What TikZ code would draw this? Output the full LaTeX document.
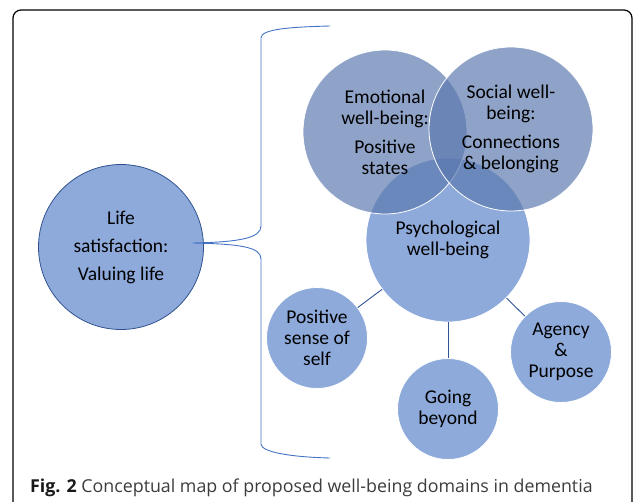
\documentclass[tikz,border=0pt]{standalone}
\usepackage{fontspec}
\setmainfont{Carlito}
\newfontfamily\capfont{Open Sans}
\usepackage{xcolor}
\usepackage{tikz}

\definecolor{lifefill}{HTML}{8EAADB}
\definecolor{lifeedge}{HTML}{2F528F}
\definecolor{domfill}{HTML}{5A78AE}
\definecolor{bracecol}{HTML}{4472C4}
\definecolor{linkcol}{HTML}{2F5597}
\definecolor{captext}{HTML}{3C3C3C}

\begin{document}
\begin{tikzpicture}[x=1pt, y=-1pt,
  bubble/.style={circle, draw=white, line width=0.8pt, fill=lifefill, inner sep=0pt,
    align=center, font=\fontsize{19.5}{21}\selectfont},
  big/.style={bubble, minimum size=164pt},
  small/.style={bubble, minimum size=101pt},
  faded/.style={big, fill=domfill, fill opacity=0.68, text opacity=1},
  link/.style={linkcol, line width=0.9pt}]
\useasboundingbox (0,0) rectangle (634,501);
\clip (0,0) rectangle (634,501);

\draw[line width=1.2pt, rounded corners=8pt] (13,520) -- (13,10) -- (632,10) -- (632,520);

\node[circle, draw=lifeedge, line width=0.8pt, fill=lifefill, minimum size=165pt, inner sep=0pt,
  align=center, font=\fontsize{19.5}{21}\selectfont] (life) at (121,247)
  {Life\\[7pt]satisfaction:\\[7pt]Valuing life};

\node[big] (psych) at (448,240) {Psychological\\well-being};
\node[faded] (emo) at (385,132) {Emotional\\well-being:\\[8pt]Positive\\states};
\node[faded] (social) at (511,129) {Social well-\\being:\\[8pt]Connections\\\& belonging};

\node[small] (self) at (317,338) {Positive\\sense of\\self};
\node[small] (beyond) at (448,409) {Going\\beyond};
\node[small] (agency) at (561,352) {Agency\\\&\\Purpose};

\draw[link] (psych) -- (self);
\draw[link] (psych) -- (beyond);
\draw[link] (psych) -- (agency);

\coordinate (tip) at (193,243);
\draw[bracecol, line width=0.9pt] (330,26) .. controls (290,27) and (261,29) .. (261,38)
  -- (261,226) .. controls (261,238) and (240,242) .. (tip)
  .. controls (240,244) and (261,247) .. (261,259)
  -- (261,444) .. controls (261,452) and (290,457) .. (330,458);

\node[anchor=base west, font=\capfont\fontsize{17.8}{20}\selectfont, text=captext, inner sep=0pt]
  (caption) at (30,492) {{\bfseries\color{black!90}Fig. 2} Conceptual map of proposed well-being domains in dementia};
\end{tikzpicture}
\end{document}
